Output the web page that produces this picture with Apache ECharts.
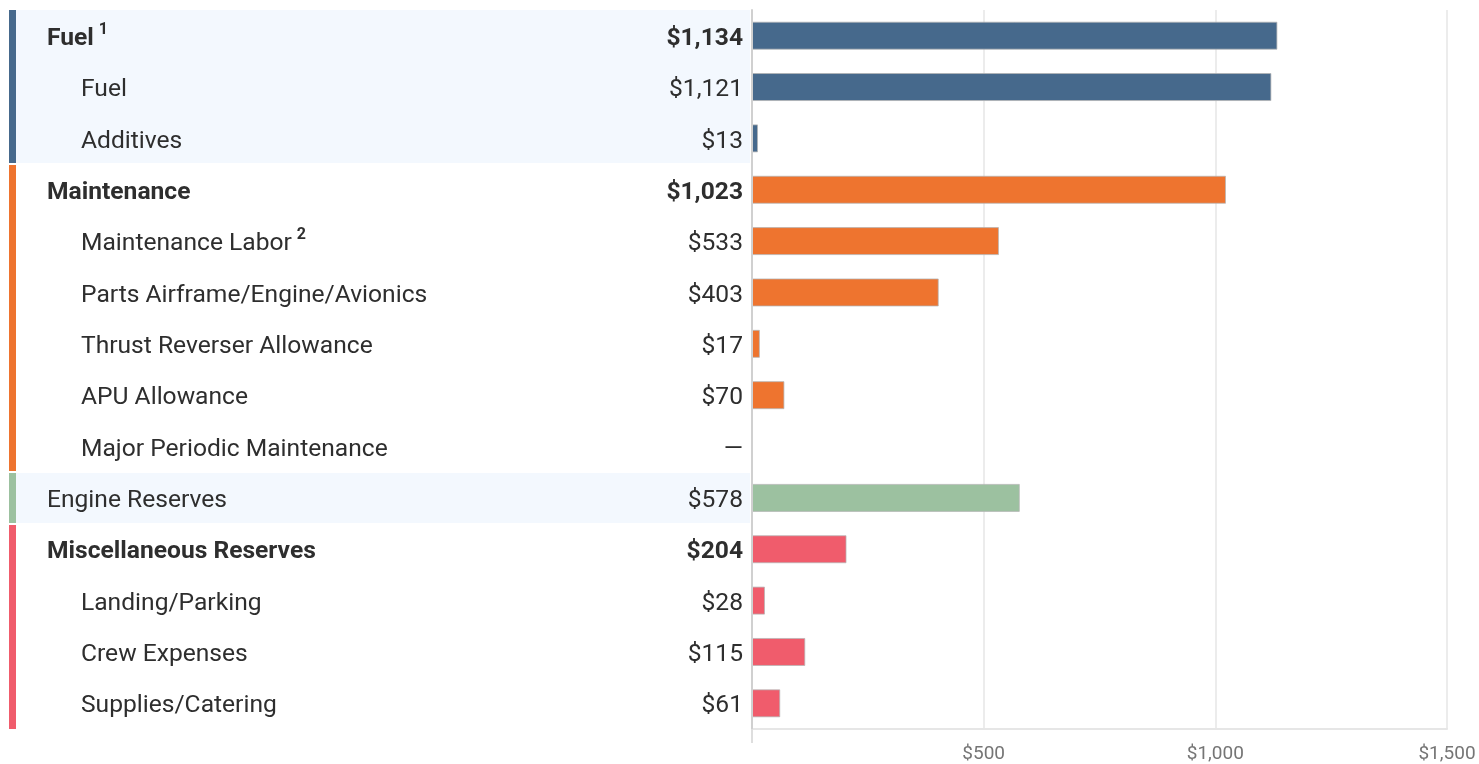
<!DOCTYPE html>
<html>
<head>
<meta charset="utf-8">
<script src="https://cdn.jsdelivr.net/npm/echarts@6/dist/echarts.min.js"></script>
<style>
  html, body { margin: 0; padding: 0; background: #ffffff; }
  #chart { width: 1479px; height: 764px; }
</style>
</head>
<body>
<div id="chart"></div>
<script>
// Hourly operating cost breakdown (USD)
const rowLabels = [
  'Fuel', 'Fuel', 'Additives',
  'Maintenance', 'Maintenance Labor', 'Parts Airframe/Engine/Avionics',
  'Thrust Reverser Allowance', 'APU Allowance', 'Major Periodic Maintenance',
  'Engine Reserves',
  'Miscellaneous Reserves', 'Landing/Parking', 'Crew Expenses', 'Supplies/Catering'
];
const rowCosts = [1134, 1121, 13, 1023, 533, 403, 17, 70, null, 578, 204, 28, 115, 61];
const rowIndent = [0, 1, 1, 0, 1, 1, 1, 1, 1, 0, 0, 1, 1, 1];
const rowBold = [true, false, false, true, false, false, false, false, false, false, true, false, false, false];
const rowNotes = ['1', '', '', '', '2', '', '', '', '', '', '', '', '', ''];
const rowGroups = ['fuel', 'fuel', 'fuel', 'maint', 'maint', 'maint', 'maint', 'maint', 'maint',
                   'engine', 'misc', 'misc', 'misc', 'misc'];
const groupColors = { fuel: '#46698c', maint: '#ee742f', engine: '#9cc1a0', misc: '#f05c6c' };
const shadedGroups = ['fuel', 'engine'];
const costTicks = { min: 0, max: 1500, step: 500 };

const FONT = 'Roboto, "Noto Sans", sans-serif';
const TEXT = '#2e2e2e';
const FS = 24.6;
const rowIds = rowLabels.map((_, i) => String(i));

const money = v => (v == null ? '\u2014' : '$' + v.toLocaleString('en-US'));

const chart = echarts.init(document.getElementById('chart'), null, { renderer: 'canvas' });

const txt = (bold, indent) => ({
  fontFamily: FONT, fontSize: FS, fontWeight: bold ? 'bold' : 'normal', color: TEXT,
  lineHeight: 28, padding: [6, 0, 0, indent ? 34 : 0]
});

const option = {
  animation: false,
  backgroundColor: '#ffffff',
  grid: { left: 752, right: 32, top: 10, bottom: 34, containLabel: false },
  xAxis: {
    type: 'value',
    min: costTicks.min,
    max: costTicks.max,
    interval: costTicks.step,
    axisLine: { show: true, lineStyle: { color: '#e6e6e6', width: 2 } },
    axisTick: { show: false },
    splitLine: { show: true, lineStyle: { color: '#e6e6e6', width: 1.5 } },
    axisLabel: {
      margin: 16,
      color: '#757575',
      fontFamily: FONT,
      fontSize: 19,
      formatter: v => (v === 0 ? '' : money(v))
    }
  },
  yAxis: [
    {
      type: 'category',
      inverse: true,
      data: rowIds,
      z: 10,
      axisLine: { show: true, lineStyle: { color: '#d0d0d0', width: 2 } },
      axisTick: { show: false },
      splitLine: { show: false },
      axisLabel: {
        align: 'left',
        margin: 705,
        interval: 0,
        formatter: id => {
          const i = Number(id);
          const style = (rowBold[i] ? 'b' : 'n') + (rowIndent[i] ? 'i' : '');
          let s = '{' + style + '|' + rowLabels[i] + '}';
          if (rowNotes[i]) s += '{sup|' + rowNotes[i] + '}';
          return s;
        },
        rich: {
          b: txt(true, false),
          n: txt(false, false),
          bi: txt(true, true),
          ni: txt(false, true),
          sup: { fontFamily: FONT, fontSize: 16, fontWeight: 'bold', color: TEXT, lineHeight: 14,
                 verticalAlign: 'top', padding: [0, 0, 0, 5] }
        }
      }
    },
    {
      type: 'category',
      inverse: true,
      position: 'left',
      data: rowIds,
      z: 10,
      axisLine: { show: false },
      axisTick: { show: false },
      splitLine: { show: false },
      axisLabel: {
        align: 'right',
        margin: 9,
        interval: 0,
        formatter: id => {
          const i = Number(id);
          return '{' + (rowBold[i] ? 'b' : 'n') + '|' + money(rowCosts[i]) + '}';
        },
        rich: {
          b: txt(true, false),
          n: txt(false, false)
        }
      }
    }
  ],
  series: [
    {
      // row shading and group colour strips on the left, one block per group
      type: 'custom',
      yAxisIndex: 0,
      z: 0,
      clip: false,
      silent: true,
      encode: { x: 0, y: 1 },
      data: rowIds.map((_, i) => [0, i]),
      renderItem: (params, api) => {
        const i = api.value(1);
        const n = rowGroups.length;
        const g = rowGroups[i];
        if (i > 0 && rowGroups[i - 1] === g) return { type: 'group', children: [] };
        let j = i;
        while (j < n - 1 && rowGroups[j + 1] === g) j++;
        const band = api.size([0, 1])[1];
        const y0 = Math.round(api.coord([0, i])[1] - band / 2) + (i > 0 ? 1 : 0);
        const y1 = Math.round(api.coord([0, j])[1] + band / 2) - (j < n - 1 ? 1 : 0);
        const left = params.coordSys.x;
        const children = [];
        if (shadedGroups.indexOf(g) >= 0) {
          children.push({
            type: 'rect',
            shape: { x: 16, y: y0, width: left - 18, height: y1 - y0 },
            style: { fill: '#f3f8fe' }
          });
        }
        children.push({
          type: 'rect',
          shape: { x: 9, y: y0, width: 7, height: y1 - y0 },
          style: { fill: groupColors[g] }
        });
        return { type: 'group', children };
      }
    },
    {
      type: 'bar',
      yAxisIndex: 0,
      z: 3,
      barWidth: 28,
      data: rowCosts.map((v, i) => ({
        value: v,
        itemStyle: {
          color: groupColors[rowGroups[i]],
          borderColor: 'rgba(180,180,180,0.75)',
          borderWidth: 1
        }
      }))
    }
  ]
};

chart.setOption(option);

// extend the zero line a little below the value axis
const gridRect = chart.getModel().getComponent('grid').coordinateSystem.getRect();
const zeroX = chart.convertToPixel({ xAxisIndex: 0 }, 0);
const baseY = gridRect.y + gridRect.height;
chart.setOption({
  graphic: [{
    type: 'line',
    silent: true,
    z: 20,
    shape: { x1: zeroX, y1: baseY, x2: zeroX, y2: baseY + 14 },
    style: { stroke: '#dedede', lineWidth: 2 }
  }]
});
</script>
</body>
</html>
